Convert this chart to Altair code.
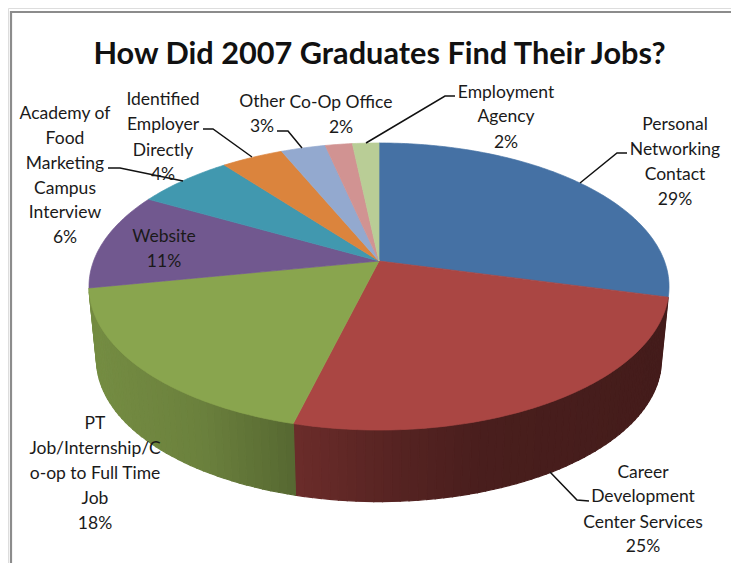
import math
import altair as alt
import pandas as pd

# ---- values ----
categories = ["Personal Networking Contact", "Career Development Center Services",
              "PT Job/Internship/Co-op to Full Time Job", "Website",
              "Academy of Food Marketing Campus Interview", "Identified Employer Directly",
              "Other", "Co-Op Office", "Employment Agency"]
shares = [29, 25, 18, 11, 6.4, 4.1, 2.95, 1.8, 1.75]
colors = ["#4571A4", "#AA4643", "#89A54E", "#71588F", "#4198AF", "#DB843D", "#93A9CF", "#D19392", "#B9CD96"]
title_text = "How Did 2007 Graduates Find Their Jobs?"

label_text = ["Employment", "Agency", "2%",
              "Personal", "Networking", "Contact", "29%",
              "Career", "Development", "Center Services", "25%",
              "PT", "Job/Internship/C", "o-op to Full Time", "Job", "18%",
              "Website", "11%",
              "Academy of", "Food", "Marketing", "Campus", "Interview", "6%",
              "Identified", "Employer", "Directly", "4%",
              "Other", "3%",
              "Co-Op Office", "2%"]
label_x = [506, 506, 506,
           675, 675, 675, 675,
           643, 643, 643, 643,
           95, 95, 95, 95, 95,
           164, 164,
           65, 65, 65, 65, 65, 65,
           163, 163, 163, 163,
           262, 262,
           341, 341]
label_y = [91, 115, 141,
           123, 148, 173, 198,
           471, 495, 521, 545,
           422, 447, 472, 497, 522,
           235, 260,
           112, 137, 162, 187, 211, 236,
           98, 123, 149, 173,
           100, 125,
           101, 126]

leaders = [[(366, 143), (445, 96), (455, 96)],
           [(580, 183), (617, 153), (627, 153)],
           [(550, 472), (577, 500), (589, 501)],
           [(252, 157), (213, 129), (203, 129)],
           [(302, 148), (288, 131), (277, 131)],
           [(183, 181), (120, 168), (108, 168)]]
frame_x = [739, 11, 11]
frame_y = [12, 12, 575]

# ---- perspective of the pie ----
CX, D, A, B, C = 379.0, 285.4, -92.6, 261.0, 0.1777


def top_rim(theta):
    u, v = math.sin(theta), math.cos(theta)
    w = 1 + C * v
    return CX + D * u / w, (A * v + B) / w


def base_rim(theta):
    x, y = top_rim(theta)
    return CX + (x - CX) * 0.974, 360 + (y - 287) * 0.99


SHADE_X = [93, 200, 293, 400, 480, 665]
SHADE_F = [0.85, 0.78, 0.63, 0.50, 0.43, 0.40]


def shade(hex_color, x):
    f = SHADE_F[-1]
    for i in range(len(SHADE_X) - 1):
        if SHADE_X[i] <= x <= SHADE_X[i + 1]:
            t = (x - SHADE_X[i]) / (SHADE_X[i + 1] - SHADE_X[i])
            f = SHADE_F[i] + t * (SHADE_F[i + 1] - SHADE_F[i])
    if x < SHADE_X[0]:
        f = SHADE_F[0]
    r, g, b = (int(hex_color[i:i + 2], 16) for i in (1, 3, 5))
    return "#%02x%02x%02x" % (round(r * f), round(g * f), round(b * f))


rows = []
side_rows = []
start = 0.0
for name, share, col in zip(categories, shares, colors):
    a0 = start / 100 * 2 * math.pi
    a1 = (start + share) / 100 * 2 * math.pi
    n = max(4, int(share * 4))
    pts = [(CX, B)] + [top_rim(a0 + (a1 - a0) * k / n) for k in range(n + 1)] + [(CX, B)]
    for k, (x, y) in enumerate(pts):
        rows.append({"id": name, "ord": k, "x": x, "y": y, "col": col})
    # visible wall, only the part that faces the viewer
    lo, hi = max(a0, math.radians(104.4)), min(a1, math.radians(259.2))
    if hi > lo:
        m = max(1, int(math.degrees(hi - lo) / 1.5))
        for j in range(m):
            t0 = lo + (hi - lo) * j / m
            t1 = lo + (hi - lo) * (j + 1) / m
            quad = [top_rim(t0), top_rim(t1), base_rim(t1), base_rim(t0), top_rim(t0)]
            c = shade(col, (quad[0][0] + quad[1][0]) / 2)
            for k, (x, y) in enumerate(quad):
                side_rows.append({"id": f"{name}-{j}", "ord": k, "x": x, "y": y, "col": c})
    start += share

xs = alt.Scale(domain=[8, 731], range=[0, 723])
ys = alt.Scale(domain=[8, 563], range=[0, 555])
X = alt.X("x:Q", scale=xs, axis=None)
Y = alt.Y("y:Q", scale=ys, axis=None)


def polygons(df, width):
    return alt.Chart(df).mark_line(strokeWidth=width, interpolate="linear", clip=False).encode(
        x=X, y=Y, detail="id:N", order="ord:Q",
        fill=alt.Fill("col:N", scale=None),
        stroke=alt.Stroke("col:N", scale=None),
    )


sides = polygons(pd.DataFrame(side_rows), 1.2)
tops = polygons(pd.DataFrame(rows), 0.7)

frame = alt.Chart(pd.DataFrame({"x": frame_x, "y": frame_y, "ord": [0, 1, 2]})).mark_line(
    color="#8c8c8c", strokeWidth=2.2).encode(x=X, y=Y, order="ord:Q")

lead_rows = [{"id": i, "ord": k, "x": p[0], "y": p[1]} for i, line in enumerate(leaders) for k, p in enumerate(line)]
lead = alt.Chart(pd.DataFrame(lead_rows)).mark_line(color="#111111", strokeWidth=1.5).encode(
    x=X, y=Y, detail="id:N", order="ord:Q")

labels = alt.Chart(pd.DataFrame({"t": label_text, "x": label_x, "y": label_y})).mark_text(
    font="Lato", fontSize=17.5, color="#1a1a1a", align="center", baseline="middle", dy=1.5).encode(
    x=X, y=Y, text="t:N")

chart = alt.layer(frame, sides, tops, lead, labels).properties(
    width=723, height=555, padding=0, autosize=alt.AutoSizeParams(type="none"),
    title=alt.TitleParams(title_text, font="Lato", fontSize=30.7, fontWeight="bold", color="#111111",
                          anchor="middle", orient="top", offset=0, dy=87, dx=10, baseline="alphabetic"),
).configure_view(stroke=None).configure(background="white")

chart.save("out.html", embed_options={"renderer": "svg", "actions": False})
